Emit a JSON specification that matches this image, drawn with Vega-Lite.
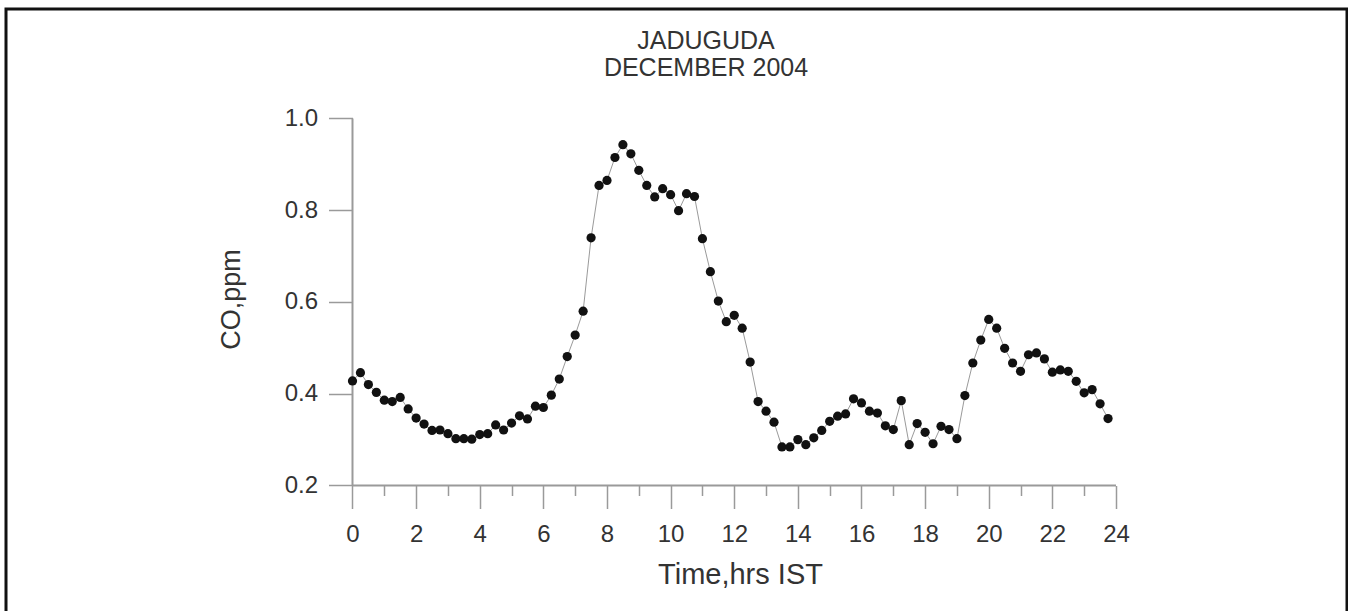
{
  "$schema": "https://vega.github.io/schema/vega-lite/v6.json",
  "width": 1341,
  "height": 607,
  "autosize": {"type": "none"},
  "padding": {"left": 6, "top": 9, "right": 1, "bottom": -5},
  "background": "white",
  "config": {
    "view": {"stroke": "#111111", "strokeWidth": 3},
    "font": "Liberation Sans"
  },
  "title": {
    "text": ["JADUGUDA", "DECEMBER 2004"],
    "fontSize": 25,
    "fontWeight": "normal",
    "color": "#333333",
    "lineHeight": 27,
    "offset": -72,
    "dx": 29.5,
    "frame": "group",
    "anchor": "middle"
  },
  "data": {
    "values": [
      {"t": 0, "co": 0.428}, {"t": 0.25, "co": 0.446}, {"t": 0.5, "co": 0.42}, {"t": 0.75, "co": 0.403},
      {"t": 1, "co": 0.386}, {"t": 1.25, "co": 0.383}, {"t": 1.5, "co": 0.392}, {"t": 1.75, "co": 0.367},
      {"t": 2, "co": 0.347}, {"t": 2.25, "co": 0.334}, {"t": 2.5, "co": 0.32}, {"t": 2.75, "co": 0.321},
      {"t": 3, "co": 0.313}, {"t": 3.25, "co": 0.302}, {"t": 3.5, "co": 0.302}, {"t": 3.75, "co": 0.301},
      {"t": 4, "co": 0.311}, {"t": 4.25, "co": 0.313}, {"t": 4.5, "co": 0.332}, {"t": 4.75, "co": 0.321},
      {"t": 5, "co": 0.336}, {"t": 5.25, "co": 0.352}, {"t": 5.5, "co": 0.345}, {"t": 5.75, "co": 0.373},
      {"t": 6, "co": 0.37}, {"t": 6.25, "co": 0.397}, {"t": 6.5, "co": 0.432}, {"t": 6.75, "co": 0.481},
      {"t": 7, "co": 0.528}, {"t": 7.25, "co": 0.58}, {"t": 7.5, "co": 0.74}, {"t": 7.75, "co": 0.854},
      {"t": 8, "co": 0.865}, {"t": 8.25, "co": 0.915}, {"t": 8.5, "co": 0.943}, {"t": 8.75, "co": 0.923},
      {"t": 9, "co": 0.887}, {"t": 9.25, "co": 0.854}, {"t": 9.5, "co": 0.829}, {"t": 9.75, "co": 0.847},
      {"t": 10, "co": 0.834}, {"t": 10.25, "co": 0.799}, {"t": 10.5, "co": 0.836}, {"t": 10.75, "co": 0.83},
      {"t": 11, "co": 0.738}, {"t": 11.25, "co": 0.666}, {"t": 11.5, "co": 0.602}, {"t": 11.75, "co": 0.557},
      {"t": 12, "co": 0.571}, {"t": 12.25, "co": 0.543}, {"t": 12.5, "co": 0.469}, {"t": 12.75, "co": 0.383},
      {"t": 13, "co": 0.362}, {"t": 13.25, "co": 0.338}, {"t": 13.5, "co": 0.284}, {"t": 13.75, "co": 0.284},
      {"t": 14, "co": 0.3}, {"t": 14.25, "co": 0.289}, {"t": 14.5, "co": 0.304}, {"t": 14.75, "co": 0.32},
      {"t": 15, "co": 0.34}, {"t": 15.25, "co": 0.351}, {"t": 15.5, "co": 0.356}, {"t": 15.75, "co": 0.389},
      {"t": 16, "co": 0.38}, {"t": 16.25, "co": 0.362}, {"t": 16.5, "co": 0.358}, {"t": 16.75, "co": 0.33},
      {"t": 17, "co": 0.322}, {"t": 17.25, "co": 0.385}, {"t": 17.5, "co": 0.289}, {"t": 17.75, "co": 0.335},
      {"t": 18, "co": 0.316}, {"t": 18.25, "co": 0.291}, {"t": 18.5, "co": 0.329}, {"t": 18.75, "co": 0.322},
      {"t": 19, "co": 0.302}, {"t": 19.25, "co": 0.396}, {"t": 19.5, "co": 0.467}, {"t": 19.75, "co": 0.517},
      {"t": 20, "co": 0.562}, {"t": 20.25, "co": 0.543}, {"t": 20.5, "co": 0.499}, {"t": 20.75, "co": 0.467},
      {"t": 21, "co": 0.449}, {"t": 21.25, "co": 0.485}, {"t": 21.5, "co": 0.489}, {"t": 21.75, "co": 0.476},
      {"t": 22, "co": 0.447}, {"t": 22.25, "co": 0.452}, {"t": 22.5, "co": 0.449}, {"t": 22.75, "co": 0.427},
      {"t": 23, "co": 0.402}, {"t": 23.25, "co": 0.409}, {"t": 23.5, "co": 0.378}, {"t": 23.75, "co": 0.346}
    ]
  },
  "layer": [
    {
      "data": {"values": [{}]},
      "mark": {"type": "rule", "color": "#9a9a9a", "strokeWidth": 2},
      "encoding": {
        "x": {
          "datum": 0, "type": "quantitative",
          "scale": {"domain": [-10.892, 31.262], "nice": false, "zero": false},
          "axis": {
            "orient": "bottom", "offset": -130.5, "values": [1, 3, 5, 7, 9, 11, 13, 15, 17, 19, 21, 23],
            "tickSize": 10, "tickColor": "#9a9a9a", "tickWidth": 1.5, "labels": false,
            "domain": false, "grid": false, "title": null
          }
        },
        "x2": {"datum": 24},
        "y": {
          "datum": 0.2, "type": "quantitative",
          "scale": {"domain": [-0.08447, 1.23869], "nice": false, "zero": false},
          "axis": null
        }
      }
    },
    {
      "data": {"values": [{}]},
      "mark": {"type": "rule", "color": "#9a9a9a", "strokeWidth": 2},
      "encoding": {
        "x": {
          "datum": 0, "type": "quantitative",
          "scale": {"domain": [-10.892, 31.262], "nice": false, "zero": false},
          "axis": null
        },
        "y": {
          "datum": 0.2, "type": "quantitative",
          "scale": {"domain": [-0.08447, 1.23869], "nice": false, "zero": false},
          "axis": null
        },
        "y2": {"datum": 1.0}
      }
    },
    {
      "mark": {"type": "line", "color": "#9a9a9a", "strokeWidth": 1},
      "encoding": {
        "x": {
          "field": "t", "type": "quantitative",
          "scale": {"domain": [-10.892, 31.262], "nice": false, "zero": false},
          "axis": null
        },
        "y": {
          "field": "co", "type": "quantitative",
          "scale": {"domain": [-0.08447, 1.23869], "nice": false, "zero": false},
          "axis": null
        }
      }
    },
    {
      "mark": {"type": "point", "filled": true, "color": "#111111", "opacity": 1, "size": 85},
      "encoding": {
        "x": {
          "field": "t", "type": "quantitative",
          "scale": {"domain": [-10.892, 31.262], "nice": false, "zero": false},
          "axis": {
            "orient": "bottom", "offset": -130.5, "values": [0, 2, 4, 6, 8, 10, 12, 14, 16, 18, 20, 22, 24],
            "format": "d", "tickSize": 23, "tickColor": "#9a9a9a", "tickWidth": 1.5,
            "labelFontSize": 24, "labelColor": "#333333", "labelPadding": 33, "labelBaseline": "alphabetic",
            "labelFlush": false, "labelOverlap": false,
            "domain": false, "grid": false,
            "title": "Time,hrs IST", "titleFontSize": 29, "titleFontWeight": "normal", "titleColor": "#333333",
            "titleX": 734, "titleY": 97.8, "titleBaseline": "alphabetic"
          }
        },
        "y": {
          "field": "co", "type": "quantitative",
          "scale": {"domain": [-0.08447, 1.23869], "nice": false, "zero": false},
          "axis": {
            "orient": "left", "offset": -346.5, "values": [0.2, 0.4, 0.6, 0.8, 1.0],
            "format": ".1f", "tickSize": 24, "tickColor": "#9a9a9a", "tickWidth": 1.5,
            "labelFontSize": 24, "labelColor": "#333333", "labelPadding": 11,
            "labelFlush": false, "labelOverlap": false,
            "domain": false, "grid": false,
            "title": "CO,ppm", "titleFontSize": 27, "titleFontWeight": "normal", "titleColor": "#333333",
            "titleX": -113, "titleY": 290, "titleBaseline": "alphabetic", "titleAngle": -90
          }
        }
      }
    }
  ],
  "resolve": {"axis": {"x": "independent", "y": "independent"}}
}
